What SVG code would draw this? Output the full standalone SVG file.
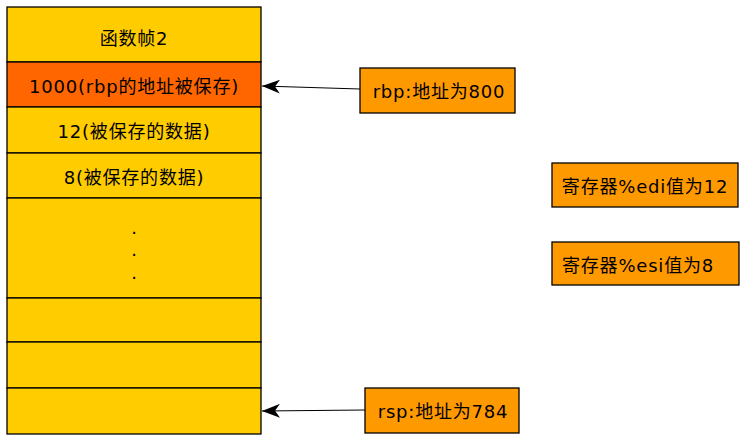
<svg xmlns="http://www.w3.org/2000/svg" width="750" height="446" viewBox="0 0 750 446">
<defs>
<style>
.cell{fill:#ffcc00;stroke:#000;stroke-width:1.3}
.hot{fill:#ff6600;stroke:#000;stroke-width:1.3}
.reg{fill:#ff9900;stroke:#000;stroke-width:1.3}
text{font-family:"DejaVu Sans","Noto Sans CJK SC",sans-serif;font-size:18px;letter-spacing:0.8px;fill:#000;text-anchor:middle;dominant-baseline:central}
text.dot{dominant-baseline:auto;letter-spacing:0}
.edge{stroke:#000;stroke-width:1.2;fill:none}
</style>
<marker id="arr" viewBox="0 0 18 14" refX="18" refY="7" markerWidth="18" markerHeight="14" markerUnits="userSpaceOnUse" orient="auto">
<path d="M0,0 L18,7 L0,14 L5,7 Z" fill="#000"/>
</marker>
</defs>
<rect width="750" height="446" fill="#fff"/>
<g id="frame2"><rect class="cell" x="7" y="7" width="254" height="55"/><text x="134" y="38">函数帧2</text></g>
<g id="rbp-saved"><rect class="hot" x="7" y="62" width="254" height="45"/><text x="134" y="86">1000(rbp的地址被保存)</text></g>
<g id="saved12"><rect class="cell" x="7" y="107" width="254" height="46"/><text x="134" y="131">12(被保存的数据)</text></g>
<g id="saved8"><rect class="cell" x="7" y="153" width="254" height="45"/><text x="134" y="177">8(被保存的数据)</text></g>
<g id="dots"><rect class="cell" x="7" y="198" width="254" height="100"/><text class="dot" x="134" y="234">.</text><text class="dot" x="134" y="256">.</text><text class="dot" x="134" y="279">.</text></g>
<g id="slot1"><rect class="cell" x="7" y="298" width="254" height="44"/></g>
<g id="slot2"><rect class="cell" x="7" y="342" width="254" height="46"/></g>
<g id="slot3"><rect class="cell" x="7" y="388" width="254" height="46"/></g>
<g id="rbp"><rect class="reg" x="360" y="68" width="155" height="45"/><text x="439" y="91">rbp:地址为800</text></g>
<g id="edi"><rect class="reg" x="552" y="163" width="186" height="44"/><text x="645" y="186">寄存器%edi值为12</text></g>
<g id="esi"><rect class="reg" x="552" y="242" width="187" height="43"/><text x="638" y="265">寄存器%esi值为8</text></g>
<g id="rsp"><rect class="reg" x="365" y="388" width="154" height="45"/><text x="443" y="411">rsp:地址为784</text></g>
<g id="connectors">
<line class="edge" x1="360" y1="89" x2="262" y2="86" marker-end="url(#arr)"/>
<line class="edge" x1="365" y1="410" x2="262" y2="411" marker-end="url(#arr)"/>
</g>
</svg>
